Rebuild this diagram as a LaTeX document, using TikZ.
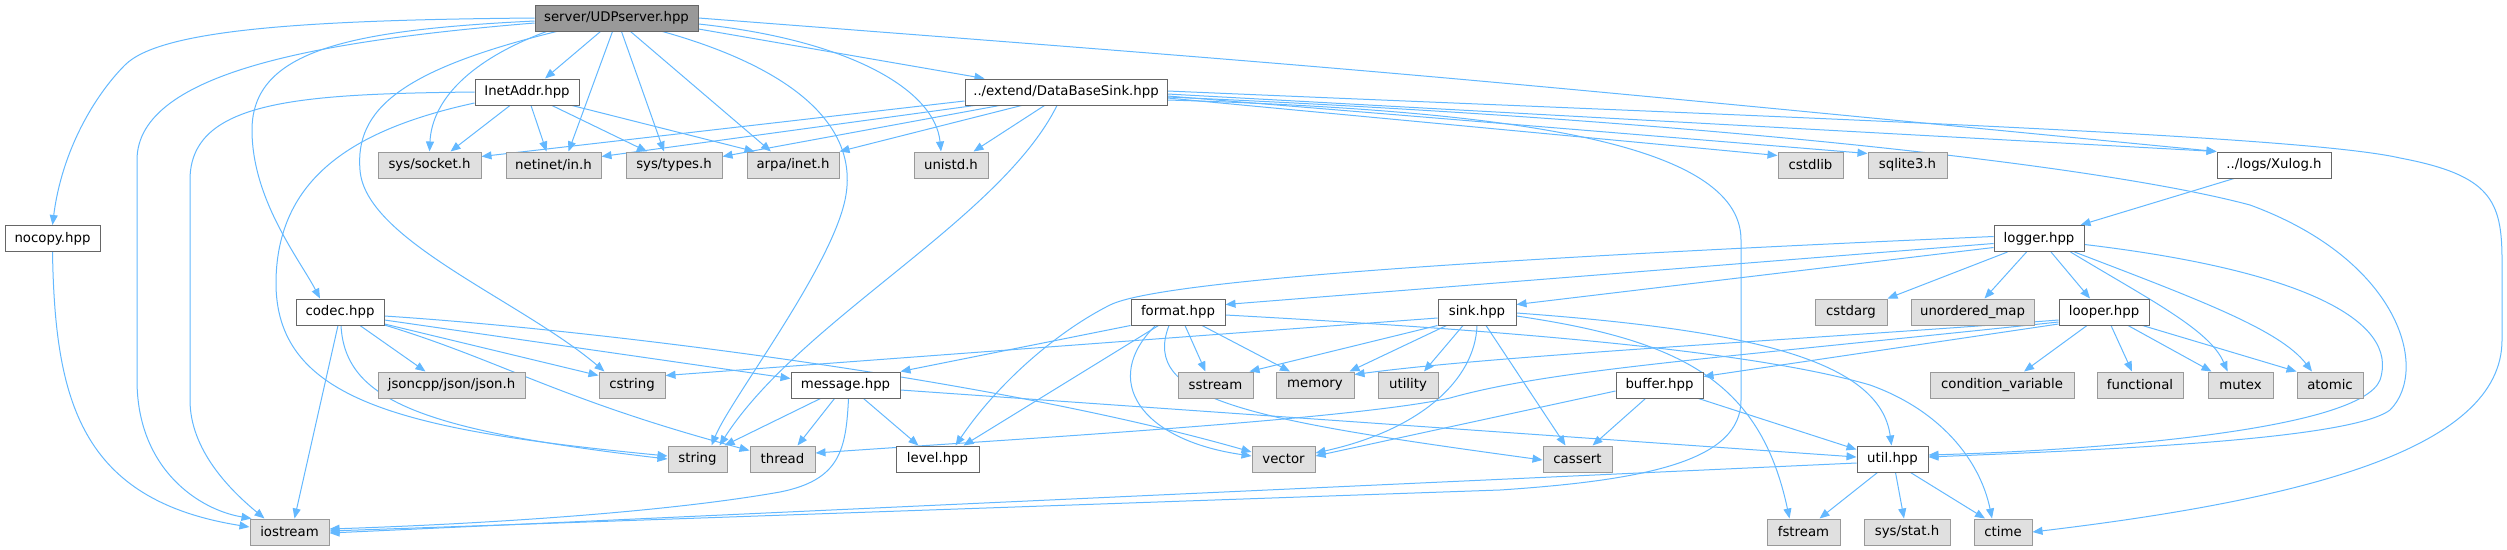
\documentclass[tikz,border=0pt]{standalone}
\usepackage{fontspec}
\setmainfont{DejaVu Sans}
\usetikzlibrary{arrows.meta,backgrounds}

\definecolor{depblue}{RGB}{99,184,255}
\definecolor{rootfill}{RGB}{153,153,153}
\definecolor{darkline}{RGB}{102,102,102}
\definecolor{sysfill}{RGB}{224,224,224}
\definecolor{sysline}{RGB}{153,153,153}

\begin{document}
\begin{tikzpicture}[
    x=1pt, y=-1pt,
    every node/.style={font=\fontsize{13.3}{15}\selectfont},
    hdrbox/.style={
        draw,
        line width=1pt,
        rectangle,
        inner xsep=4pt,
        inner ysep=0pt,
        minimum height=26pt,
        text=black
    },
    rootbox/.style={hdrbox, draw=darkline, fill=rootfill},
    projbox/.style={hdrbox, draw=darkline, fill=white},
    sysbox/.style={hdrbox, draw=sysline, fill=sysfill},
    incl/.style={draw=depblue, line width=1pt, -{Triangle[length=10pt,width=8pt]}}
]
    \useasboundingbox (0,0) rectangle (2507,549);

    % Row 1
    \node[rootbox, minimum width=163pt] (udpserver) at (616.5,18) {server/UDPserver.hpp};

    % Row 2
    \node[projbox, minimum width=104pt] (inetaddr) at (527,92) {InetAddr.hpp};
    \node[projbox, minimum width=202pt] (dbsink) at (1066,92) {../extend/DataBaseSink.hpp};

    % Row 3
    \node[sysbox, minimum width=103pt] (syssocket) at (429.5,165) {sys/socket.h};
    \node[sysbox, minimum width=95pt] (netinet) at (553.5,165) {netinet/in.h};
    \node[sysbox, minimum width=96pt] (systypes) at (674,165) {sys/types.h};
    \node[sysbox, minimum width=92pt] (arpainet) at (793,165) {arpa/inet.h};
    \node[sysbox, minimum width=74pt] (unistd) at (951,165) {unistd.h};
    \node[sysbox, minimum width=65pt] (cstdlib) at (1810.5,165) {cstdlib};
    \node[sysbox, minimum width=79pt] (sqlite) at (1907.5,165) {sqlite3.h};
    \node[projbox, minimum width=114pt] (xulog) at (2274,165) {../logs/Xulog.h};

    % Row 4
    \node[projbox, minimum width=95pt] (nocopy) at (52.5,238.5) {nocopy.hpp};
    \node[projbox, minimum width=90pt] (logger) at (2039,238.5) {logger.hpp};

    % Row 5
    \node[projbox, minimum width=88pt] (codec) at (340,312) {codec.hpp};
    \node[projbox, minimum width=94pt] (format) at (1178,312) {format.hpp};
    \node[projbox, minimum width=78pt] (sink) at (1477,312) {sink.hpp};
    \node[sysbox, minimum width=72pt] (cstdarg) at (1851,312) {cstdarg};
    \node[sysbox, minimum width=123pt] (umap) at (1972.5,312) {unordered\_map};
    \node[projbox, minimum width=90pt] (looper) at (2104,312) {looper.hpp};

    % Row 6
    \node[sysbox, minimum width=147pt] (json) at (451.5,385) {jsoncpp/json/json.h};
    \node[sysbox, minimum width=66pt] (cstring) at (632,385) {cstring};
    \node[projbox, minimum width=109pt] (message) at (845.5,385) {message.hpp};
    \node[sysbox, minimum width=75pt] (sstream) at (1215.5,385) {sstream};
    \node[sysbox, minimum width=78pt] (memory) at (1315,385) {memory};
    \node[sysbox, minimum width=60pt] (utility) at (1408,385) {utility};
    \node[projbox, minimum width=87pt] (buffer) at (1659.5,385) {buffer.hpp};
    \node[sysbox, minimum width=144pt] (condvar) at (2002,385) {condition\_variable};
    \node[sysbox, minimum width=86pt] (functional) at (2140,385) {functional};
    \node[sysbox, minimum width=65pt] (mutex) at (2240.5,385) {mutex};
    \node[sysbox, minimum width=66pt] (atomic) at (2330,385) {atomic};

    % Row 7
    \node[sysbox, minimum width=59pt] (string) at (697.5,459) {string};
    \node[sysbox, minimum width=65pt] (thread) at (782.5,459) {thread};
    \node[projbox, minimum width=83pt] (level) at (937.5,459) {level.hpp};
    \node[sysbox, minimum width=63pt] (vector) at (1283.5,459) {vector};
    \node[sysbox, minimum width=69pt] (cassert) at (1577.5,459) {cassert};
    \node[projbox, minimum width=71pt] (util) at (1892.5,459) {util.hpp};

    % Row 8
    \node[sysbox, minimum width=79pt] (iostream) at (289.5,532) {iostream};
    \node[sysbox, minimum width=73pt] (fstream) at (1803.5,532) {fstream};
    \node[sysbox, minimum width=86pt] (sysstat) at (1907,532) {sys/stat.h};
    \node[sysbox, minimum width=58pt] (ctime) at (2003,532) {ctime};

    \begin{scope}[on background layer]
    % server/UDPserver.hpp
    \draw[incl] (udpserver.west) .. controls (300,20) and (160,30) .. (125,65)
        .. controls (95,95) and (62,150) .. (nocopy.north);
    \draw[incl] ([yshift=-5pt]udpserver.west) .. controls (330,40) and (137,70) .. (137,160)
        -- (137,380) .. controls (137,470) and (200,510) .. ([xshift=2pt]iostream.north west);
    \draw[incl] ([yshift=-3pt]udpserver.west) .. controls (350,30) and (252,50) .. (252,130)
        .. controls (252,200) and (300,260) .. ([xshift=-20pt]codec.north);
    \draw[incl] ([xshift=-60pt]udpserver.south) .. controls (400,70) and (355,110) .. (360,170)
        .. controls (365,240) and (520,300) .. ([xshift=6pt]cstring.north west);
    \draw[incl] ([xshift=-16pt]udpserver.south) -- ([xshift=18pt]inetaddr.north);
    \draw[incl] ([xshift=-70pt]udpserver.south) .. controls (470,60) and (432,100) .. (syssocket.north);
    \draw[incl] ([xshift=-4pt]udpserver.south) -- ([xshift=15pt]netinet.north);
    \draw[incl] ([xshift=5pt]udpserver.south) -- ([xshift=-10pt]systypes.north);
    \draw[incl] ([xshift=14pt]udpserver.south) -- ([xshift=-22pt]arpainet.north);
    \draw[incl] ([xshift=46pt]udpserver.south) .. controls (800,70) and (860,130) .. (845,200)
        .. controls (830,270) and (730,400) .. ([xshift=14pt]string.north);
    \draw[incl] ([yshift=-6pt]udpserver.east) .. controls (850,40) and (935,90) .. ([xshift=-10pt]unistd.north);
    \draw[incl] ([yshift=-11pt]udpserver.east) -- ([xshift=20pt]dbsink.north west);
    \draw[incl] (udpserver.east) .. controls (1400,72) .. (xulog.north west);

    % InetAddr.hpp
    \draw[incl] (inetaddr.west) .. controls (300,94) and (190,100) .. (190,180)
        -- (190,400) .. controls (190,450) and (230,490) .. ([xshift=15pt]iostream.north west);
    \draw[incl] ([yshift=-11pt]inetaddr.west) .. controls (350,130) and (278,180) .. (276,280)
        .. controls (274,400) and (400,430) .. ([yshift=3pt]string.west);
    \draw[incl] ([xshift=-17pt]inetaddr.south) -- ([xshift=21pt]syssocket.north);
    \draw[incl] ([xshift=4pt]inetaddr.south) -- ([xshift=-7pt]netinet.north);
    \draw[incl] ([xshift=25pt]inetaddr.south) -- ([xshift=-27pt]systypes.north);
    \draw[incl] ([xshift=45pt]inetaddr.south) -- ([xshift=8pt]arpainet.north west);

    % ../extend/DataBaseSink.hpp
    \draw[incl] ([yshift=-9pt]dbsink.west) -- ([yshift=-5pt]syssocket.north east);
    \draw[incl] ([xshift=10pt]dbsink.south west) -- ([yshift=-5pt]netinet.north east);
    \draw[incl] ([xshift=35pt]dbsink.south west) -- ([yshift=-5pt]systypes.north east);
    \draw[incl] ([xshift=57pt]dbsink.south west) -- (arpainet.north east);
    \draw[incl] ([xshift=80pt]dbsink.south west) -- ([xshift=-15pt]unistd.north east);
    \draw[incl] ([xshift=-9pt]dbsink.south) .. controls (1000,220) and (800,320) .. ([xshift=-8pt]string.north east);
    \draw[incl] ([yshift=-6pt]dbsink.east) -- ([yshift=-4pt]cstdlib.north west);
    \draw[incl] ([yshift=-4pt]dbsink.east) -- ([yshift=-2pt]sqlite.north west);
    \draw[incl] ([yshift=-2pt]dbsink.east) -- (xulog.north west);
    \draw[incl] ([yshift=-8pt]dbsink.east) .. controls (1500,110) and (1741,140) .. (1741,240)
        -- (1741,400) .. controls (1741,460) and (1650,480) .. (1500,490) -- ([yshift=1pt]iostream.east);
    \draw[incl] ([yshift=1pt]dbsink.east) .. controls (1800,118) and (2300,135) .. (2400,158)
        .. controls (2490,175) and (2502,200) .. (2502,260)
        -- (2502,340) .. controls (2502,450) and (2300,500) .. (ctime.east);
    \draw[incl] ([yshift=-5pt]dbsink.east) .. controls (1700,120) and (2100,165) .. (2250,205)
        .. controls (2400,260) and (2430,370) .. (2390,410)
        .. controls (2350,440) and (2100,450) .. ([yshift=2pt]util.east);

    % ../logs/Xulog.h
    \draw[incl] ([xshift=-40pt]xulog.south) -- ([xshift=-4pt]logger.north east);

    % logger.hpp
    \draw[incl] ([yshift=-5pt]logger.west) -- ([yshift=-6pt]format.north east);
    \draw[incl] ([yshift=2pt]logger.west) .. controls (1500,258) and (1160,280) .. (1110,305)
        .. controls (1060,330) and (1000,380) .. ([xshift=18pt]level.north);
    \draw[incl] ([yshift=-9pt]logger.west) -- ([yshift=-6pt]sink.north east);
    \draw[incl] ([xshift=14pt]logger.south west) -- (cstdarg.north east);
    \draw[incl] ([xshift=33pt]logger.south west) -- ([xshift=12pt]umap.north);
    \draw[incl] ([xshift=12pt]logger.south) -- ([xshift=-14pt]looper.north);
    \draw[incl] ([xshift=-14pt]logger.south east) .. controls (2150,300) and (2210,330) .. ([xshift=-13pt]mutex.north);
    \draw[incl] ([xshift=-10pt]logger.south east) .. controls (2200,300) and (2280,330) .. ([xshift=-18pt]atomic.north);
    \draw[incl] ([yshift=-6pt]logger.east) .. controls (2300,270) and (2400,320) .. (2380,380)
        .. controls (2360,430) and (2100,450) .. ([yshift=4pt]util.east);

    % looper.hpp
    \draw[incl] ([yshift=-8pt]looper.west) .. controls (1800,340) and (1500,355) .. ([yshift=-3pt]memory.north east);
    \draw[incl] ([yshift=-10pt]looper.west) .. controls (1700,360) and (1550,370) .. (1450,398)
        .. controls (1350,420) and (1000,440) .. ([yshift=6pt]thread.east);
    \draw[incl] ([yshift=-12pt]looper.west) -- ([yshift=-5pt]buffer.north east);
    \draw[incl] ([xshift=-17pt]looper.south) -- ([xshift=22pt]condvar.north);
    \draw[incl] ([xshift=7pt]looper.south) -- ([xshift=-8pt]functional.north);
    \draw[incl] ([xshift=24pt]looper.south) -- ([xshift=-29pt]mutex.north);
    \draw[incl] ([xshift=-7pt]looper.south east) -- (atomic.north west);

    % sink.hpp
    \draw[incl] ([yshift=-6pt]sink.west) -- ([yshift=-4pt]cstring.north east);
    \draw[incl] (sink.south west) -- ([xshift=-4pt]sstream.north east);
    \draw[incl] ([xshift=9pt]sink.south west) -- ([xshift=-5pt]memory.north east);
    \draw[incl] ([xshift=-14pt]sink.south) -- ([xshift=16pt]utility.north);
    \draw[incl] (sink.south) .. controls (1475,380) and (1420,430) .. ([yshift=6pt]vector.east);
    \draw[incl] ([xshift=9pt]sink.south) -- ([xshift=-12pt]cassert.north);
    \draw[incl] ([yshift=-1pt]sink.east) .. controls (1750,330) and (1880,360) .. ([xshift=-1pt]util.north);
    \draw[incl] ([yshift=-4pt]sink.east) .. controls (1680,340) and (1760,380) .. ([xshift=-14pt]fstream.north);

    % format.hpp
    \draw[incl] (format.south west) -- (message.north east);
    \draw[incl] ([xshift=28pt]format.south west) -- ([xshift=-16pt]level.north east);
    \draw[incl] ([xshift=25pt]format.south west) .. controls (1100,380) and (1140,440) .. ([yshift=3pt]vector.west);
    \draw[incl] ([xshift=-9pt]format.south) .. controls (1140,400) and (1250,420) .. ([yshift=-1pt]cassert.west);
    \draw[incl] ([xshift=7pt]format.south) -- ([xshift=-10pt]sstream.north);
    \draw[incl] ([xshift=24pt]format.south) -- ([xshift=-25pt]memory.north);
    \draw[incl] ([yshift=-3pt]format.east) .. controls (1500,330) and (1750,350) .. (1870,385)
        .. controls (1940,410) and (1980,460) .. ([xshift=-11pt]ctime.north);

    % message.hpp
    \draw[incl] ([xshift=-25pt]message.south) -- ([xshift=-3pt]string.north east);
    \draw[incl] ([xshift=-11pt]message.south) -- ([xshift=15pt]thread.north);
    \draw[incl] ([xshift=18pt]message.south) -- ([xshift=-19pt]level.north);
    \draw[incl] ([xshift=3pt]message.south) .. controls (846,450) and (840,480) .. (780,492)
        .. controls (650,515) and (450,525) .. ([yshift=3pt]iostream.east);
    \draw[incl] ([yshift=-5pt]message.east) -- ([yshift=2pt]util.west);

    % codec.hpp
    \draw[incl] ([xshift=20pt]codec.south) -- ([xshift=-26pt]json.north);
    \draw[incl] ([yshift=-12pt]codec.east) -- ([yshift=-4pt]cstring.north west);
    \draw[incl] ([yshift=-8pt]codec.east) -- ([yshift=-7pt]message.north west);
    \draw[incl] ([yshift=-13pt]codec.east) .. controls (500,360) and (560,400) .. ([yshift=-5pt]thread.north west);
    \draw[incl] ([yshift=-4pt]codec.east) .. controls (600,330) and (1000,380) .. ([yshift=7pt]vector.west);
    \draw[incl] ([xshift=1pt]codec.south) .. controls (345,400) and (420,430) .. (string.west);
    \draw[incl] ([xshift=-2pt]codec.south) -- ([xshift=5pt]iostream.north);

    % buffer.hpp
    \draw[incl] ([yshift=-6pt]buffer.west) -- ([yshift=3pt]vector.east);
    \draw[incl] ([xshift=-14pt]buffer.south) -- ([xshift=15pt]cassert.north);
    \draw[incl] ([xshift=-5pt]buffer.south east) -- ([yshift=-4pt]util.north west);

    % util.hpp
    \draw[incl] ([xshift=-15pt]util.south) -- ([xshift=16pt]fstream.north);
    \draw[incl] ([xshift=3pt]util.south) -- ([xshift=-3pt]sysstat.north);
    \draw[incl] ([xshift=18pt]util.south) -- ([xshift=-18pt]ctime.north);
    \draw[incl] ([yshift=-4pt]util.west) -- ([yshift=-1pt]iostream.east);

    % nocopy.hpp
    \draw[incl] (nocopy.south) .. controls (55,400) and (80,500) .. ([yshift=5pt]iostream.west);
    \end{scope}

\end{tikzpicture}
\end{document}
